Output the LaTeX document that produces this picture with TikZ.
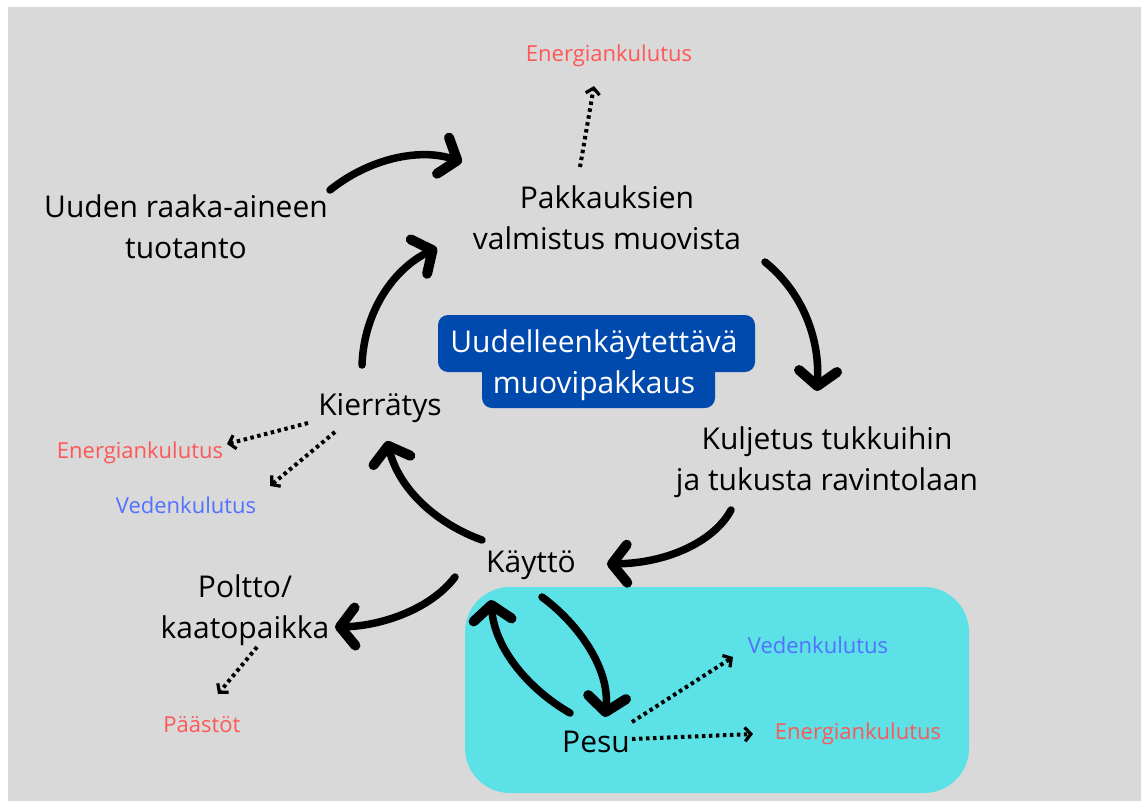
\documentclass[tikz,border=0pt]{standalone}
\usepackage{fontspec}
\setmainfont{Open Sans}
\usetikzlibrary{arrows.meta}
\definecolor{bggray}{HTML}{D9D9D9}
\definecolor{cyanbox}{HTML}{5CE1E6}
\definecolor{navy}{HTML}{004AAD}
\definecolor{redt}{HTML}{FF5757}
\definecolor{bluet}{HTML}{5271FF}
\begin{document}
\begin{tikzpicture}[x=1pt,y=-1pt,
  big/.style={font=\fontsize{30}{41}\selectfont, text=black, inner sep=0pt, align=center},
  small/.style={font=\fontsize{22}{25}\selectfont, inner sep=0pt, anchor=base},
  flow/.style={line width=7.5pt, line cap=round, -{Straight Barb[length=15pt,width=38pt,line width=10pt 0 0,round]}},
  leak/.style={line width=4pt, dash pattern=on 3.5pt off 3.5pt, -{Straight Barb[length=6pt,width=14pt,line width=3.2pt 0 0]}},
]
\useasboundingbox (0,0) rectangle (1141,801);
\fill[white] (0,0) rectangle (1141,801);
\fill[bggray] (8,7) rectangle (1141,801);

% containers
\fill[cyanbox, rounded corners=45pt] (465,587) rectangle (969,793);
\fill[navy, rounded corners=10pt] (438,315) rectangle (755,372);
\fill[navy, rounded corners=10pt] (482,360) rectangle (715,408);

% main nodes
\node[big] (uuden) at (186,226.5) {Uuden raaka-aineen\\tuotanto};
\node[big] (pakk) at (607,218) {Pakkauksien\\valmistus muovista};
\node[big] (kulj) at (827,462.5) {Kuljetus tukkuihin\\ja tukusta ravintolaan};
\node[big, anchor=base] (kierr) at (380,415) {Kierrätys};
\node[big] (poltto) at (245,610) {Poltto/\\kaatopaikka};
\node[big, anchor=base] (kaytto) at (531,572) {Käyttö};
\node[big, anchor=base] (pesu) at (596,752) {Pesu};
\node[big, text=white] (uudel) at (594,365) {Uudelleenkäytettävä\\muovipakkaus};

% side effects
\node[small, text=redt] (e1) at (609,61) {Energiankulutus};
\node[small, text=redt] (e2) at (140,458) {Energiankulutus};
\node[small, text=bluet] (v1) at (186,513) {Vedenkulutus};
\node[small, text=redt] (p1) at (202,732) {Päästöt};
\node[small, text=bluet] (v2) at (818,653) {Vedenkulutus};
\node[small, text=redt] (e3) at (858,739) {Energiankulutus};

% connector end points
\coordinate (uuden-o) at (330,190);
\coordinate (pakk-i1) at (462,162);
\coordinate (kierr-o) at (362,365);
\coordinate (pakk-i2) at (437,248);
\coordinate (pakk-o) at (765,262);
\coordinate (kulj-i) at (817,391);
\coordinate (kulj-o) at (731,510);
\coordinate (kaytto-i) at (607,564);
\coordinate (kaytto-o1) at (482,540);
\coordinate (kierr-i) at (387,441);
\coordinate (kaytto-o2) at (455,577);
\coordinate (poltto-i) at (335,627);
\coordinate (kaytto-o3) at (542,597);
\coordinate (pesu-i) at (605,717);
\coordinate (pesu-o) at (570,713);
\coordinate (kaytto-i2) at (491,600);

\coordinate (pakk-l) at (580,167);
\coordinate (e1-i) at (594,86);
\coordinate (kierr-l1) at (308,423);
\coordinate (e2-i) at (227,444);
\coordinate (kierr-l2) at (335,432);
\coordinate (v1-i) at (270,486);
\coordinate (poltto-l) at (257,647);
\coordinate (p1-i) at (218,694);
\coordinate (pesu-l1) at (632,722);
\coordinate (v2-i) at (733,657);
\coordinate (pesu-l2) at (632,739);
\coordinate (e3-i) at (753,734);

% main flow
\draw[flow] (uuden-o) .. controls (370,158) and (420,148) .. (pakk-i1);
\draw[flow] (kierr-o) .. controls (364,310) and (395,268) .. (pakk-i2);
\draw[flow] (pakk-o) .. controls (800,290) and (820,335) .. (kulj-i);
\draw[flow] (kulj-o) .. controls (715,540) and (670,563) .. (kaytto-i);
\draw[flow] (kaytto-o1) .. controls (440,525) and (400,492) .. (kierr-i);
\draw[flow] (kaytto-o2) .. controls (430,610) and (380,626) .. (poltto-i);
\draw[flow] (kaytto-o3) .. controls (580,625) and (610,670) .. (pesu-i);
\draw[flow] (pesu-o) .. controls (530,690) and (495,650) .. (kaytto-i2);

% leaks
\draw[leak] (pakk-l) -- (e1-i);
\draw[leak] (kierr-l1) -- (e2-i);
\draw[leak] (kierr-l2) -- (v1-i);
\draw[leak] (poltto-l) -- (p1-i);
\draw[leak] (pesu-l1) -- (v2-i);
\draw[leak] (pesu-l2) -- (e3-i);
\end{tikzpicture}
\end{document}
